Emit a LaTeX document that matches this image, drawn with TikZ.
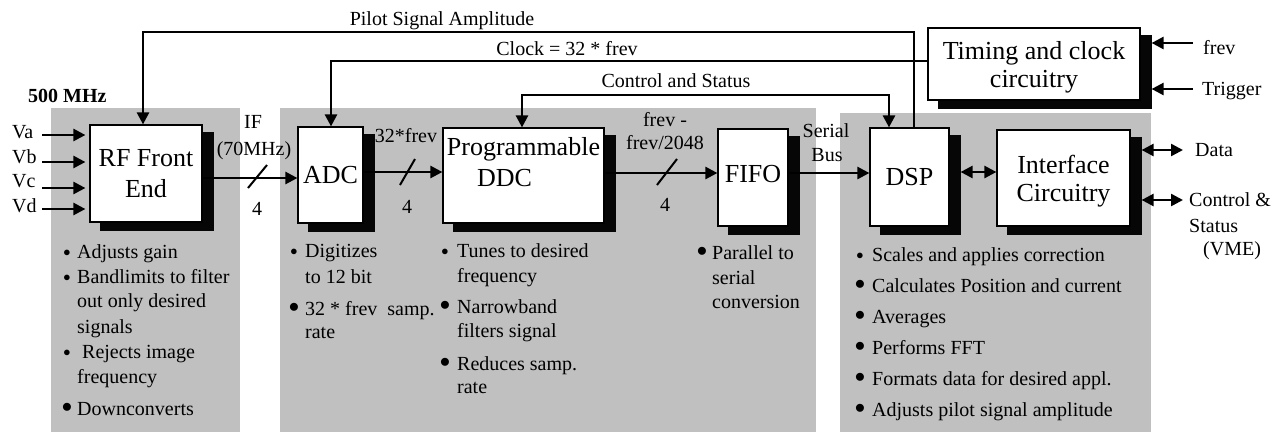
\documentclass[tikz,border=0pt]{standalone}
\usepackage{fontspec}
\setmainfont{Liberation Serif}
\usetikzlibrary{arrows.meta}
\definecolor{panelgrey}{RGB}{192,192,192}
\definecolor{shadowblack}{RGB}{6,6,6}
\begin{document}
\begin{tikzpicture}[x=1pt,y=-1pt,
  box/.style={draw=black,line width=1.2pt,fill=white,
    inner sep=0pt,align=center,font=\fontsize{26}{31}\selectfont},
  shadeR/.style={draw=shadowblack,line width=11pt},
  shadeB/.style={draw=shadowblack,line width=7.5pt},
  wire/.style={line width=2.5pt},
  arr/.style={wire,-{Triangle[length=12pt,width=12pt]}},
  darr/.style={wire,{Triangle[length=12pt,width=12pt]}-{Triangle[length=12pt,width=12pt]}},
  slash/.style={line width=2pt},
  lbl/.style={inner sep=0pt,anchor=base,font=\fontsize{20}{24}\selectfont},
  lblw/.style={lbl,anchor=base west},
  sbul/.style={inner sep=0pt,anchor=base,yshift=2pt,font=\fontsize{15}{15}\selectfont},
  bbul/.style={inner sep=0pt,anchor=base,yshift=2.5pt,font=\fontsize{21}{21}\selectfont},
]
\useasboundingbox (0,0) rectangle (1286,432);

% grey panels
\fill[panelgrey] (51,108) rectangle (240,432);
\fill[panelgrey] (280,108) rectangle (816,432);
\fill[panelgrey] (840,113) rectangle (1151,432);

% blocks
\node[box,minimum width=112pt,minimum height=97pt] (rf) at (146,173.5) {RF Front\\End};
\node[box,minimum width=65pt,minimum height=96pt] (adc) at (330.5,175) {ADC};
\node[box,minimum width=161pt,minimum height=95pt,text height=23pt] (ddc) at (523.5,175.5) {Programmable\\DDC\hspace*{38pt}};
\node[box,minimum width=70pt,minimum height=97pt,text depth=8pt] (fifo) at (753,177.5) {FIFO};
\node[box,minimum width=79pt,minimum height=98pt] (dsp) at (909.5,177) {DSP};
\node[box,minimum width=133pt,minimum height=96pt,text depth=0pt,font=\fontsize{26}{28}\selectfont] (ifc) at (1063.5,178) {Interface\\Circuitry};
\node[box,minimum width=212pt,minimum height=72pt,text depth=0pt,font=\fontsize{26}{28}\selectfont] (timing) at (1034,64) {Timing and clock\\circuitry};

% block shadows: thick bands at the right and bottom of each block
\foreach \blk in {rf,adc,ddc,fifo,dsp,ifc,timing}{
  \draw[shadeR] ([xshift=6.1pt,yshift=-7.5pt]\blk.north east) -- ([xshift=6.1pt,yshift=-7.5pt]\blk.south east);
  \draw[shadeB] ([xshift=11pt,yshift=-4.35pt]\blk.south west) -- ([xshift=11.6pt,yshift=-4.35pt]\blk.south east);
}

% top feedback wires
\coordinate (pilotA) at (914,32);
\coordinate (pilotB) at (143,32);
\draw[arr] (dsp.north -| pilotA) -- (pilotA) -- (pilotB) -- (pilotB |- rf.north);
\node[lbl] (pilotlbl) at (442,25) {Pilot Signal Amplitude};

\coordinate (clkA) at (331,61);
\draw[arr] (timing.west |- clkA) -- (clkA) -- (clkA |- adc.north);
\node[lbl] (clklbl) at (567,55) {Clock = 32 * frev};

\coordinate (ctlA) at (522,95);
\coordinate (ctlB) at (889,95);
\draw[darr] (ctlA |- ddc.north) -- (ctlA) -- (ctlB) -- (ctlB |- dsp.north);
\node[lbl] (ctllbl) at (676,87) {Control and Status};

% inputs to RF front end
\node[lbl,font=\fontsize{20}{24}\selectfont\bfseries,anchor=base west] (mhz) at (28,102) {500 MHz};
\node[lblw] (va) at (12,138) {Va};
\node[lblw] (vb) at (12,163) {Vb};
\node[lblw] (vc) at (12,187) {Vc};
\node[lblw] (vd) at (12,212) {Vd};
\coordinate (vaS) at (42,135);
\coordinate (vbS) at (42,162);
\coordinate (vcS) at (42,188);
\coordinate (vdS) at (42,209);
\draw[arr,shorten >=4pt] (vaS) -- ([yshift=38.5pt]rf.west);
\draw[arr,shorten >=4pt] (vbS) -- ([yshift=11.5pt]rf.west);
\draw[arr,shorten >=4pt] (vcS) -- ([yshift=-14.5pt]rf.west);
\draw[arr,shorten >=4pt] (vdS) -- ([yshift=-35.5pt]rf.west);

% data path
\draw[arr] ([yshift=-4.5pt]rf.east) -- ([yshift=-3pt]adc.west);
\draw[slash] (248,188) -- (267,165);
\node[lbl] (if1) at (253,128) {IF};
\node[lbl] (if2) at (254,155) {(70MHz)};
\node[lbl] (n1) at (257,215) {4};

\draw[arr] ([yshift=3pt]adc.east) -- ([yshift=3.5pt]ddc.west);
\draw[slash] (400,185) -- (415,159);
\node[lbl] (r1) at (406,142) {32*frev};
\node[lbl] (n2) at (407,213) {4};

\draw[arr] ([yshift=2.5pt]ddc.east) -- ([yshift=4.5pt]fifo.west);
\draw[slash] (657,185) -- (677,159);
\node[lbl] (r2a) at (665,126) {frev -};
\node[lbl] (r2b) at (665,149) {frev/2048};
\node[lbl] (n3) at (665,211) {4};

\draw[arr] ([yshift=4.5pt]fifo.east) -- ([yshift=4pt]dsp.west);
\node[lbl] (sb1) at (826,137) {Serial};
\node[lbl] (sb2) at (827,161) {Bus};

\draw[darr] ([xshift=11pt,yshift=5pt]dsp.east) -- ([yshift=6pt]ifc.west);

% timing inputs
\coordinate (frevS) at (1193,43);
\coordinate (trigS) at (1193,89);
\draw[arr] (frevS) -- ([xshift=11pt,yshift=21pt]timing.east);
\draw[arr] (trigS) -- ([xshift=11pt,yshift=-25pt]timing.east);
\node[lblw] (frevl) at (1203,54) {frev};
\node[lblw] (trigl) at (1202,95) {Trigger};

% interface outputs
\coordinate (dataE) at (1183,150);
\coordinate (csE) at (1183,200);
\draw[darr] ([xshift=11pt,yshift=28pt]ifc.east) -- (dataE);
\draw[darr] ([xshift=11pt,yshift=-22pt]ifc.east) -- (csE);
\node[lblw] (datal) at (1195,156) {Data};
\node[lblw] (cs1) at (1189,206) {Control \&};
\node[lblw] (cs2) at (1189,232) {Status};
\node[lblw] (cs3) at (1203,255) {(VME)};

% RF bullets
\node[sbul] (rfb1) at (67,258) {$\bullet$};
\node[lblw] (rft1) at (77,258) {Adjusts gain};
\node[sbul] (rfb2) at (67,283) {$\bullet$};
\node[lblw] (rft2) at (77,283) {Bandlimits to filter};
\node[lblw] (rft3) at (77,307) {out only desired};
\node[lblw] (rft4) at (77,333) {signals};
\node[sbul] (rfb3) at (67,358) {$\bullet$};
\node[lblw] (rft5) at (82,358) {Rejects image};
\node[lblw] (rft6) at (77,383) {frequency};
\node[bbul] (rfb4) at (67,415) {$\bullet$};
\node[lblw] (rft7) at (77,415) {Downconverts};

% ADC bullets
\node[sbul] (adb1) at (294,257) {$\bullet$};
\node[lblw] (adt1) at (305,257) {Digitizes};
\node[lblw] (adt2) at (305,283) {to 12 bit};
\node[bbul] (adb2) at (294,315) {$\bullet$};
\node[lblw] (adt3) at (305,315) {32 * frev\ \ samp.};
\node[lblw] (adt4) at (305,338) {rate};

% DDC bullets
\node[sbul] (ddb1) at (445,257) {$\bullet$};
\node[lblw] (ddt1) at (457,257) {Tunes to desired};
\node[lblw] (ddt2) at (457,282) {frequency};
\node[bbul] (ddb2) at (445,313) {$\bullet$};
\node[lblw] (ddt3) at (457,313) {Narrowband};
\node[lblw] (ddt4) at (457,337) {filters signal};
\node[bbul] (ddb3) at (445,370) {$\bullet$};
\node[lblw] (ddt5) at (457,370) {Reduces samp.};
\node[lblw] (ddt6) at (457,393) {rate};

% FIFO bullets
\node[bbul] (ffb1) at (702,259) {$\bullet$};
\node[lblw] (fft1) at (712,259) {Parallel to};
\node[lblw] (fft2) at (712,284) {serial};
\node[lblw] (fft3) at (712,308) {conversion};

% DSP bullets
\node[sbul] (dsb1) at (860,261) {$\bullet$};
\node[lblw] (dst1) at (872,261) {Scales and applies correction};
\node[bbul] (dsb2) at (860,292) {$\bullet$};
\node[lblw] (dst2) at (872,292) {Calculates Position and current};
\node[bbul] (dsb3) at (860,323) {$\bullet$};
\node[lblw] (dst3) at (872,323) {Averages};
\node[bbul] (dsb4) at (860,354) {$\bullet$};
\node[lblw] (dst4) at (872,354) {Performs FFT};
\node[bbul] (dsb5) at (860,385) {$\bullet$};
\node[lblw] (dst5) at (872,385) {Formats data for desired appl.};
\node[bbul] (dsb6) at (860,416) {$\bullet$};
\node[lblw] (dst6) at (872,416) {Adjusts pilot signal amplitude};
\end{tikzpicture}
\end{document}
